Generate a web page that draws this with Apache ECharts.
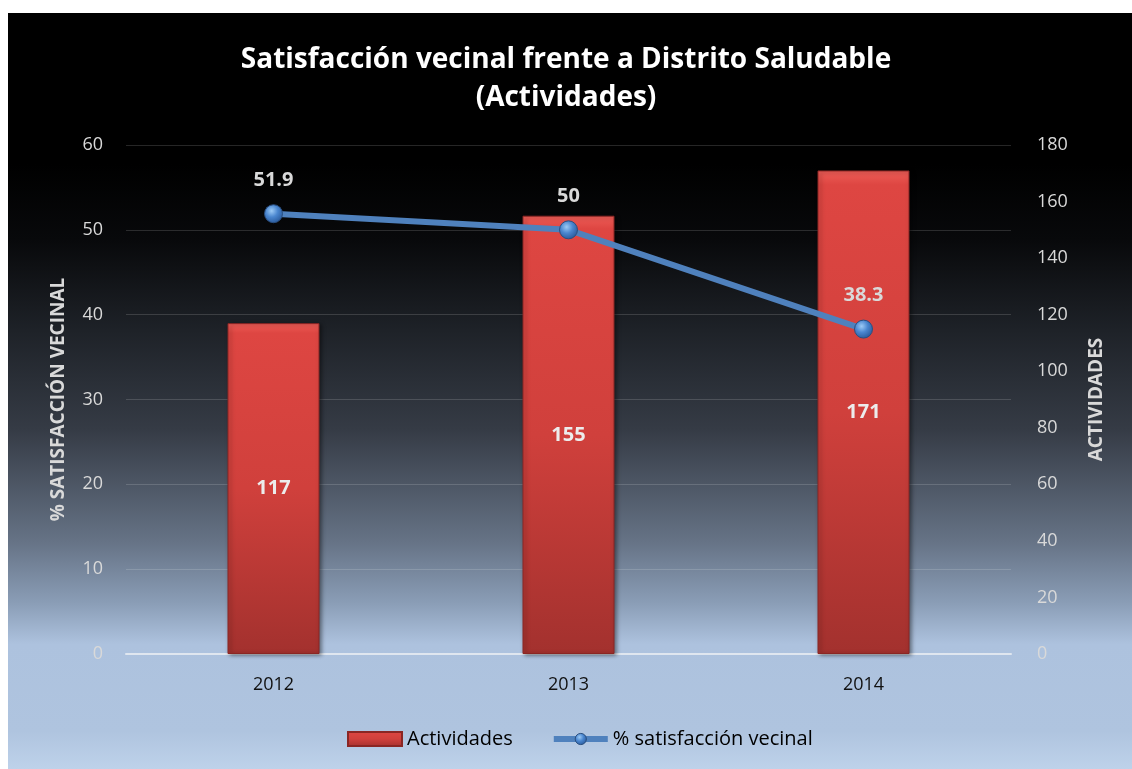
<!DOCTYPE html>
<html>
<head>
<meta charset="utf-8">
<script src="https://cdn.jsdelivr.net/npm/echarts@6/dist/echarts.min.js"></script>
<style>
  html, body { margin: 0; padding: 0; background: #ffffff; }
  #main { width: 1132px; height: 769px; }
</style>
</head>
<body>
<div id="main"></div>
<script>
const years = ['2012', '2013', '2014'];
const actividades = [117, 155, 171];
const satisfaccion = [51.9, 50, 38.3];

const FONT = '"Open Sans", "DejaVu Sans", sans-serif';

var chart = echarts.init(document.getElementById('main'));

var option = {
  backgroundColor: '#ffffff',
  graphic: [{
    type: 'rect',
    z: -10,
    silent: true,
    shape: { x: 8, y: 13, width: 1124, height: 756 },
    style: {
      fill: {
        type: 'linear', x: 0, y: 0, x2: 0, y2: 1,
        colorStops: [
          { offset: 0, color: '#000000' },
          { offset: 0.20, color: '#000000' },
          { offset: 0.30, color: '#08090b' },
          { offset: 0.42, color: '#1e2228' },
          { offset: 0.55, color: '#353b45' },
          { offset: 0.70, color: '#667386' },
          { offset: 0.78, color: '#8a9db6' },
          { offset: 0.835, color: '#adc2de' },
          { offset: 0.95, color: '#afc4df' },
          { offset: 1, color: '#bed2ea' }
        ]
      }
    }
  }],
  title: {
    text: 'Satisfacción vecinal frente a Distrito Saludable\n(Actividades)',
    left: 'center',
    top: 36,
    textStyle: {
      color: '#ffffff',
      fontFamily: FONT,
      fontWeight: 'bold',
      fontSize: 28,
      lineHeight: 38
    }
  },
  legend: {
    bottom: 15,
    left: 342,
    itemWidth: 54,
    itemHeight: 14,
    itemGap: 38,
    textStyle: { color: '#000000', fontFamily: FONT, fontSize: 20 },
    data: [
      { name: 'Actividades', icon: 'rect' },
      { name: '% satisfacción vecinal', itemStyle: { borderWidth: 1 } }
    ],
    lineStyle: { width: 6 }
  },
  grid: { left: 126, right: 121, top: 145, bottom: 115 },
  xAxis: {
    type: 'category',
    data: years,
    axisLine: { lineStyle: { color: '#dfe6ef', width: 2 } },
    axisTick: { show: false },
    axisLabel: { color: '#111111', fontFamily: FONT, fontSize: 18, margin: 22 }
  },
  yAxis: [{
    type: 'value',
    min: 0, max: 60, interval: 10,
    name: '% SATISFACCIÓN VECINAL',
    nameLocation: 'middle',
    nameGap: 58,
    nameTextStyle: { color: '#d9d9d9', fontFamily: FONT, fontWeight: 'bold', fontSize: 19 },
    axisLine: { show: false },
    axisTick: { show: false },
    axisLabel: { color: '#d9d9d9', fontFamily: FONT, fontSize: 18, margin: 23 },
    splitLine: { lineStyle: { color: 'rgba(255,255,255,0.15)', width: 1 } }
  }, {
    type: 'value',
    min: 0, max: 180, interval: 20,
    name: 'ACTIVIDADES',
    nameLocation: 'middle',
    nameGap: 76,
    nameTextStyle: { color: '#d9d9d9', fontFamily: FONT, fontWeight: 'bold', fontSize: 19 },
    axisLine: { show: false },
    axisTick: { show: false },
    axisLabel: { color: '#d9d9d9', fontFamily: FONT, fontSize: 18, margin: 26 },
    splitLine: { show: false }
  }],
  series: [{
    name: 'Actividades',
    type: 'bar',
    yAxisIndex: 1,
    data: actividades,
    barWidth: 92,
    itemStyle: {
      color: {
        type: 'linear', x: 0, y: 0, x2: 0, y2: 1,
        colorStops: [
          { offset: 0, color: '#ee5d57' },
          { offset: 0.03, color: '#de4642' },
          { offset: 0.5, color: '#d0403c' },
          { offset: 1, color: '#a3312e' }
        ]
      },
      borderColor: '#8a2624',
      borderWidth: 1,
      shadowColor: 'rgba(0,0,0,0.45)',
      shadowBlur: 4,
      shadowOffsetX: 2,
      shadowOffsetY: 1
    },
    label: {
      show: true,
      position: 'inside',
      color: '#ececec',
      fontFamily: FONT,
      fontWeight: 'bold',
      fontSize: 20
    }
  }, {
    name: '% satisfacción vecinal',
    type: 'line',
    yAxisIndex: 0,
    data: satisfaccion,
    z: 5,
    symbol: 'circle',
    symbolSize: 18,
    lineStyle: { color: '#4f81bd', width: 6 },
    itemStyle: {
      color: {
        type: 'radial', x: 0.4, y: 0.35, r: 0.65,
        colorStops: [
          { offset: 0, color: '#9ccaf5' },
          { offset: 0.5, color: '#4a86cf' },
          { offset: 1, color: '#2b5c9e' }
        ]
      },
      borderColor: '#2a4f80',
      borderWidth: 1
    },
    label: {
      show: true,
      position: 'top',
      distance: 14,
      color: '#d9d9d9',
      fontFamily: FONT,
      fontWeight: 'bold',
      fontSize: 20
    }
  }]
};

chart.setOption(option);
</script>
</body>
</html>
